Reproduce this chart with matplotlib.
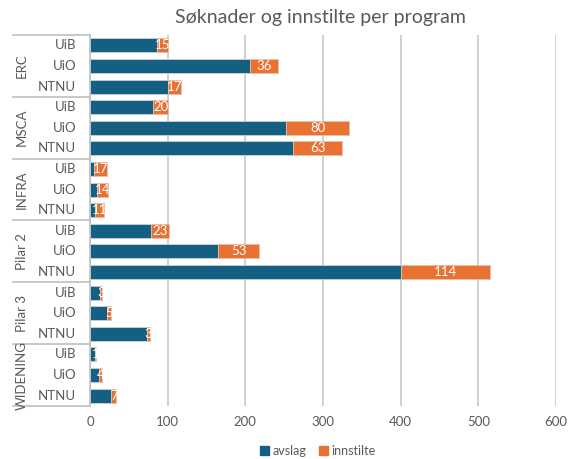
import matplotlib.pyplot as plt
import matplotlib.transforms as mtransforms
from matplotlib.patches import Patch

# data
groups = ['ERC', 'MSCA', 'INFRA', 'Pilar 2', 'Pilar 3', 'WIDENING']
institutions = ['UiB', 'UiO', 'NTNU']
avslag = [86, 206, 100,
          81, 253, 262,
          5, 9, 7,
          79, 165, 401,
          13, 22, 74,
          7, 12, 27]
innstilte = [15, 36, 17,
             20, 80, 63,
             17, 14, 11,
             23, 53, 114,
             3, 5, 3,
             1, 4, 7]
xticks = [0, 100, 200, 300, 400, 500, 600]

blue = '#156082'
orange = '#E97132'
txt = '#595959'
plt.rcParams['font.family'] = ['Lato', 'DejaVu Sans']

fig = plt.figure(figsize=(5.69, 4.59), dpi=100)
ax = fig.add_axes([90/569, 1-406/459, 466/569, (406-35)/459])

n = len(avslag)
ypos = list(range(n))
ax.barh(ypos, avslag, height=0.68, color=blue, edgecolor='#c8d3da', linewidth=0.6, zorder=3)
ax.barh(ypos, innstilte, left=avslag, height=0.68, color=orange, edgecolor='#e0c0b0', linewidth=0.6, zorder=3)
for i in range(n):
    ax.text(avslag[i] + innstilte[i] / 2, ypos[i], str(innstilte[i]), ha='center', va='center',
            color='white', fontsize=9.5, zorder=4)

ax.set_ylim(n - 0.5, -0.5)
ax.set_xlim(0, 600)
ax.set_xticks(xticks)
ax.set_xticklabels([str(v) for v in xticks], color=txt, fontsize=9.5)
ax.set_yticks([])
ax.tick_params(axis='x', length=0, pad=7)
ax.grid(axis='x', color='#d0d0d0', linewidth=1.4, zorder=0)
for s in ['top', 'right', 'bottom']:
    ax.spines[s].set_visible(False)
ax.spines['left'].set_color('#bfbfbf')
ax.spines['left'].set_linewidth(1.2)

# hierarchical category axis
trans = mtransforms.blended_transform_factory(ax.transAxes, ax.transData)
x0 = (13 - 90) / 466
for g, name in enumerate(groups):
    top = g * 3 - 0.5
    ax.plot([x0, 0], [top, top], transform=trans, color='#bfbfbf', lw=1.2, clip_on=False)
    ax.text((22 - 90) / 466, g * 3 + 1, name, transform=trans, rotation=90, ha='center', va='center',
            color=txt, fontsize=9.5)
    for k, inst in enumerate(institutions):
        ax.text(-0.03, g * 3 + k, inst, transform=trans, ha='right', va='center', color=txt, fontsize=9.5)
ax.plot([x0, 0], [n - 0.5, n - 0.5], transform=trans, color='#bfbfbf', lw=1.2, clip_on=False)

fig.text(320/569, 1-18/459, 'Søknader og innstilte per program', ha='center', va='center',
         color=txt, fontsize=14)
handles = [Patch(color=blue, label='avslag'), Patch(color=orange, label='innstilte')]
fig.legend(handles=handles, loc='center', bbox_to_anchor=(318/569, 1-451/459), ncol=2, frameon=False,
           fontsize=9, handlelength=0.7, handleheight=0.7, handletextpad=0.3, columnspacing=1.0,
           labelcolor=txt)

fig.savefig('out.png', dpi=100)
